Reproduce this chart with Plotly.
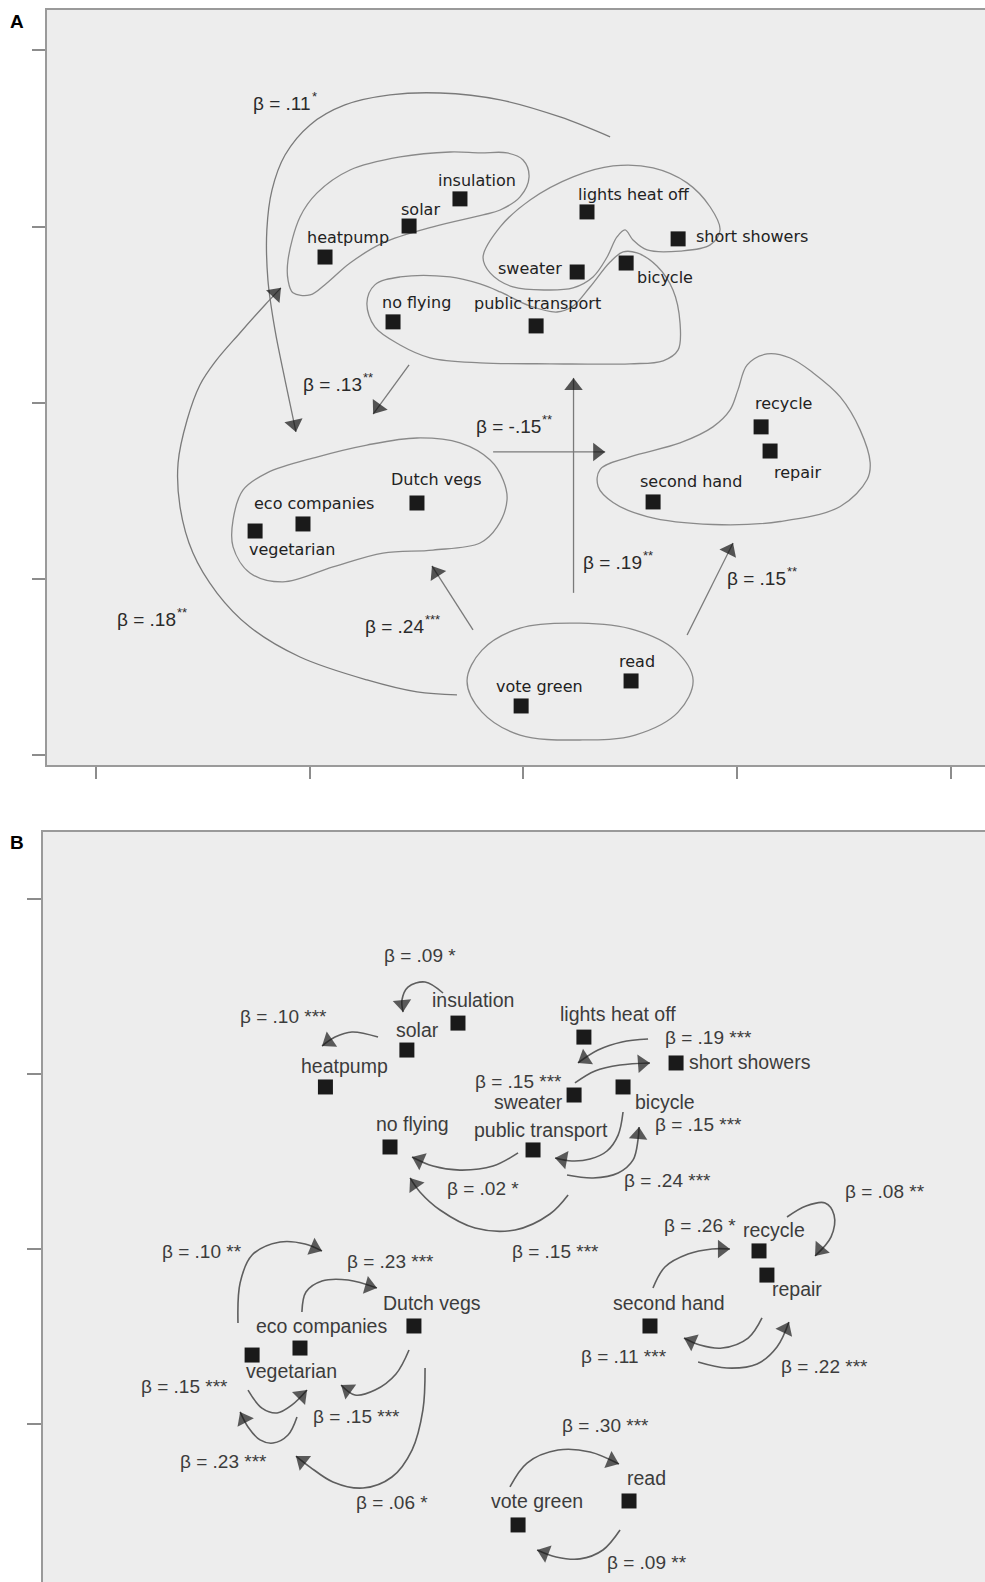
import plotly.graph_objects as go

# ---------------- data ----------------
items = ["insulation", "solar", "heatpump", "no flying", "lights heat off",
         "short showers", "sweater", "bicycle", "public transport", "Dutch vegs",
         "eco companies", "vegetarian", "recycle", "repair", "second hand",
         "read", "vote green"]

# Panel A coordinates
a_x = [-0.297, -0.535, -0.928, -0.610, 0.297, 0.723, 0.251, 0.480, 0.059, -0.498,
       -1.031, -1.255, 1.111, 1.153, 0.606, 0.503, -0.011]
a_y = [1.157, 1.003, 0.827, 0.459, 1.083, 0.930, 0.742, 0.793, 0.436, -0.569,
       -0.688, -0.728, -0.137, -0.274, -0.563, -1.579, -1.721]

# Panel B coordinates
b_x = [-0.292, -0.531, -0.912, -0.610, 0.297, 0.728, 0.251, 0.480, 0.059, -0.498,
       -1.031, -1.255, 1.116, 1.153, 0.606, 0.508, -0.011]
b_y = [1.291, 1.137, 0.926, 0.583, 1.211, 1.063, 0.880, 0.926, 0.566, -0.440,
       -0.566, -0.606, -0.011, -0.149, -0.440, -1.440, -1.577]

# Cluster outlines (panel A)
contour_energy_x = [-1.101, -1.045, -0.965, -0.811, -0.577, -0.343, -0.203, -0.077, -0.002, 0.026,
                    -0.016, -0.109, -0.189, -0.423, -0.657, -0.811, -0.919, -0.998, -1.078, -1.101, -1.101]
contour_energy_y = [0.810, 1.054, 1.191, 1.321, 1.395, 1.423, 1.418, 1.418, 1.378, 1.282,
                    1.168, 1.094, 1.066, 0.998, 0.907, 0.793, 0.680, 0.612, 0.624, 0.697, 0.810]
contour_home_x = [-0.189, -0.109, 0.031, 0.232, 0.419, 0.606, 0.765, 0.873, 0.919, 0.873, 0.732,
                  0.578, 0.512, 0.475, 0.437, 0.391, 0.325, 0.232, 0.110, -0.049, -0.156, -0.189]
contour_home_y = [0.827, 0.998, 1.151, 1.282, 1.344, 1.333, 1.248, 1.111, 0.981, 0.896, 0.861,
                  0.867, 0.924, 0.981, 0.941, 0.827, 0.714, 0.652, 0.640, 0.657, 0.737, 0.827]
contour_transport_x = [-0.732, -0.695, -0.577, -0.343, -0.203, -0.109, 0.031, 0.157, 0.232, 0.311,
                       0.405, 0.466, 0.531, 0.624, 0.699, 0.732, 0.723, 0.653, 0.498, 0.124,
                       -0.203, -0.437, -0.577, -0.695, -0.732]
contour_transport_y = [0.566, 0.669, 0.714, 0.714, 0.674, 0.629, 0.549, 0.515, 0.549, 0.657,
                       0.799, 0.856, 0.850, 0.776, 0.640, 0.453, 0.300, 0.238, 0.221, 0.221,
                       0.226, 0.255, 0.328, 0.430, 0.566]
contour_food_x = [-1.358, -1.311, -1.199, -0.966, -0.732, -0.498, -0.297, -0.156, -0.095, -0.077,
                  -0.123, -0.203, -0.423, -0.657, -0.891, -1.125, -1.279, -1.358, -1.358]
contour_food_y = [-0.665, -0.495, -0.398, -0.308, -0.240, -0.200, -0.228, -0.325, -0.438, -0.552,
                  -0.705, -0.796, -0.836, -0.853, -0.932, -1.017, -0.966, -0.818, -0.665]
contour_waste_x = [1.139, 1.046, 1.003, 0.966, 0.886, 0.732, 0.498, 0.358, 0.349, 0.419, 0.578,
                   0.886, 1.200, 1.481, 1.607, 1.621, 1.574, 1.481, 1.355, 1.247, 1.139]
contour_waste_y = [0.277, 0.215, 0.073, -0.041, -0.137, -0.228, -0.307, -0.379, -0.475, -0.566, -0.646,
                   -0.691, -0.674, -0.589, -0.436, -0.340, -0.154, 0.033, 0.169, 0.254, 0.277]
contour_civic_x = [-0.264, -0.194, -0.016, 0.264, 0.522, 0.709, 0.793, 0.723, 0.522, 0.264,
                   -0.016, -0.194, -0.264]
contour_civic_y = [-1.579, -1.404, -1.279, -1.251, -1.290, -1.404, -1.574, -1.756, -1.886, -1.914,
                   -1.886, -1.756, -1.579]

# Panel A arrows (tail ... head)
a_arrow_x = [
    [0.405, 0.171, -0.109, -0.390, -0.624, -0.835, -0.998, -1.115, -1.176, -1.200, -1.195, -1.162, -1.115, -1.064],
    [-0.535, -0.703],
    [-0.142, 0.382],
    [-0.311, -0.498, -0.732, -1.045, -1.279, -1.433, -1.546, -1.606, -1.615, -1.573, -1.513, -1.442, -1.326, -1.209, -1.134],
    [-0.236, -0.428],
    [0.234, 0.234],
    [0.765, 0.980],
]
a_arrow_y = [
    [1.509, 1.622, 1.719, 1.758, 1.747, 1.690, 1.577, 1.406, 1.207, 0.981, 0.697, 0.413, 0.129, -0.166],
    [0.215, -0.064],
    [-0.279, -0.279],
    [-1.658, -1.641, -1.573, -1.443, -1.273, -1.080, -0.852, -0.591, -0.341, -0.098, 0.101, 0.232, 0.396, 0.555, 0.652],
    [-1.289, -0.926],
    [-1.079, 0.141],
    [-1.318, -0.796],
]
a_beta = [".11", ".13", "-.15", ".18", ".24", ".19", ".15"]
a_sig = ["*", "**", "**", "**", "***", "**", "**"]
a_beta_x = [-0.989, -0.750, 0.087, -1.620, -0.460, 0.559, 1.233]   # right end of "β = …"
a_beta_y = [1.701, 0.101, -0.137, -1.233, -1.272, -0.909, -1.000]

# Panel B arrows (tail ... head)
b_arrow_x = [
    [-0.362, -0.446, -0.526, -0.554, -0.549],
    [-0.666, -0.788, -0.867, -0.928],
    [0.597, 0.475, 0.363, 0.269],
    [0.255, 0.349, 0.466, 0.606],
    [0.480, 0.457, 0.405, 0.326, 0.241, 0.162],
    [0.218, 0.340, 0.457, 0.527, 0.550, 0.555],
    [-0.011, -0.128, -0.283, -0.409, -0.507],
    [0.223, 0.138, -0.025, -0.212, -0.376, -0.470, -0.516],
    [-1.321, -1.311, -1.255, -1.124, -1.007, -0.928],
    [-1.022, -1.003, -0.928, -0.806, -0.671],
    [-0.521, -0.582, -0.680, -0.774, -0.839],
    [-1.274, -1.209, -1.138, -1.068, -0.998],
    [-1.045, -1.087, -1.157, -1.218, -1.274, -1.311],
    [-0.446, -0.456, -0.507, -0.601, -0.736, -0.877, -0.984, -1.050],
    [1.247, 1.336, 1.425, 1.467, 1.453, 1.378],
    [0.620, 0.676, 0.784, 0.896, 0.980],
    [1.130, 1.065, 0.943, 0.840, 0.765],
    [0.831, 0.966, 1.107, 1.200, 1.256],
    [-0.049, 0.031, 0.176, 0.326, 0.461],
    [0.466, 0.386, 0.279, 0.167, 0.078],
]
b_arrow_y = [
    [1.463, 1.526, 1.497, 1.423, 1.354],
    [1.211, 1.240, 1.211, 1.160],
    [1.200, 1.183, 1.137, 1.063],
    [0.949, 1.017, 1.051, 1.063],
    [0.783, 0.651, 0.560, 0.514, 0.503, 0.520],
    [0.423, 0.406, 0.434, 0.509, 0.623, 0.697],
    [0.549, 0.474, 0.451, 0.474, 0.526],
    [0.309, 0.200, 0.109, 0.120, 0.223, 0.326, 0.406],
    [-0.423, -0.194, -0.034, 0.040, 0.029, -0.011],
    [-0.360, -0.246, -0.183, -0.177, -0.223],
    [-0.577, -0.714, -0.806, -0.834, -0.777],
    [-0.806, -0.909, -0.937, -0.891, -0.806],
    [-0.960, -1.063, -1.109, -1.091, -1.017, -0.931],
    [-0.680, -0.920, -1.149, -1.303, -1.366, -1.331, -1.246, -1.183],
    [0.183, 0.246, 0.263, 0.194, 0.069, -0.040],
    [-0.223, -0.103, -0.029, 0.000, 0.000],
    [-0.394, -0.509, -0.566, -0.549, -0.509],
    [-0.646, -0.680, -0.657, -0.560, -0.417],
    [-1.360, -1.223, -1.149, -1.160, -1.229],
    [-1.606, -1.720, -1.771, -1.760, -1.720],
]
b_beta = [".09", ".10", ".19", ".15", ".15", ".24", ".02", ".15", ".10", ".23",
          ".15", ".15", ".23", ".06", ".08", ".26", ".11", ".22", ".30", ".09"]
b_sig = ["*", "***", "***", "***", "***", "***", "*", "***", "**", "***",
         "***", "***", "***", "*", "**", "*", "***", "***", "***", "**"]
b_beta_x = [-0.470, -1.106, 0.882, -0.011, 0.831, 0.690, -0.175, 0.162, -1.489, -0.610,
            -1.569, -0.769, -1.391, -0.601, 1.705, 0.840, 0.485, 1.420, 0.400, 0.592]
b_beta_y = [1.680, 1.331, 1.211, 0.960, 0.709, 0.394, 0.343, -0.017, -0.017, -0.069,
            -0.783, -0.960, -1.217, -1.451, 0.326, 0.137, -0.617, -0.674, -1.006, -1.789]

tick_vals = [-2, -1, 0, 1, 2]

# ---------------- styling (pixel offsets of item labels) ----------------
a_label_off = [(17, -18), (11, -17), (23, -20), (23, -19), (47, -17), (74, -2), (-47, -4),
               (39, 14), (1, -22), (20, -24), (11, -20), (37, 18), (22, -23), (27, 21),
               (38, -20), (6, -19), (18, -19)]
b_label_off = [(15, -23), (11, -20), (19, -21), (22, -23), (34, -23), (74, -1), (-46, 7),
               (42, 15), (8, -20), (18, -23), (22, -22), (39, 16), (15, -21), (30, 14),
               (19, -23), (17, -23), (19, -24)]

W, H = 985, 1582
fig = go.Figure()

def add_curve(xs, ys, xa, ya, color, width, shape="spline"):
    fig.add_trace(go.Scatter(x=xs, y=ys, xaxis=xa, yaxis=ya, mode="lines",
                             line=dict(color=color, width=width, shape=shape, smoothing=1.0),
                             hoverinfo="skip"))

def add_head(xs, ys, xa, ya, color, size):
    fig.add_trace(go.Scatter(x=xs[-2:], y=ys[-2:], xaxis=xa, yaxis=ya, mode="markers",
                             marker=dict(symbol="triangle-up", size=[0, size], color=color,
                                         angleref="previous", standoff=size / 2,
                                         line=dict(width=0)),
                             hoverinfo="skip"))

# Panel A contours
for cx, cy in [(contour_energy_x, contour_energy_y), (contour_home_x, contour_home_y),
               (contour_transport_x, contour_transport_y), (contour_food_x, contour_food_y),
               (contour_waste_x, contour_waste_y), (contour_civic_x, contour_civic_y)]:
    add_curve(cx, cy, "x", "y", "#8a8a8a", 1.3)

# Panel A arrows
for xs, ys in zip(a_arrow_x, a_arrow_y):
    add_curve(xs, ys, "x", "y", "#7a7a7a", 1.3, "spline" if len(xs) > 2 else "linear")
    add_head(xs, ys, "x", "y", "#111111", 16)

# Panel B arrows
for xs, ys in zip(b_arrow_x, b_arrow_y):
    add_curve(xs, ys, "x2", "y2", "#5e5e5e", 1.6)
    add_head(xs, ys, "x2", "y2", "#1a1a1a", 16)

# Points
fig.add_trace(go.Scatter(x=a_x, y=a_y, xaxis="x", yaxis="y", mode="markers",
                         marker=dict(symbol="square", size=15, color="#1a1a1a"),
                         text=items, hoverinfo="text"))
fig.add_trace(go.Scatter(x=b_x, y=b_y, xaxis="x2", yaxis="y2", mode="markers",
                         marker=dict(symbol="square", size=15, color="#1a1a1a"),
                         text=items, hoverinfo="text"))

ann = []
for name, x, y, (dx, dy) in zip(items, a_x, a_y, a_label_off):
    ann.append(dict(x=x, y=y, xref="x", yref="y", text=name, showarrow=False,
                    xshift=dx, yshift=-dy, xanchor="center", yanchor="middle",
                    font=dict(family="DejaVu Sans", size=16, color="#222222")))
for name, x, y, (dx, dy) in zip(items, b_x, b_y, b_label_off):
    ann.append(dict(x=x, y=y, xref="x2", yref="y2", text=name, showarrow=False,
                    xshift=dx, yshift=-dy, xanchor="center", yanchor="middle",
                    font=dict(family="Liberation Sans", size=19.5, color="#3c3c3c")))
for b, s, x, y in zip(a_beta, a_sig, a_beta_x, a_beta_y):
    ann.append(dict(x=x, y=y, xref="x", yref="y", text=f"β = {b}",
                    showarrow=False, xanchor="right", yanchor="middle", borderpad=0,
                    font=dict(family="Liberation Sans", size=19, color="#2a2a2a")))
    ann.append(dict(x=x, y=y, xref="x", yref="y", text=s, showarrow=False,
                    xanchor="left", yanchor="middle", borderpad=0, xshift=-1, yshift=7,
                    font=dict(family="Liberation Sans", size=13, color="#2a2a2a")))
for b, s, x, y in zip(b_beta, b_sig, b_beta_x, b_beta_y):
    ann.append(dict(x=x, y=y, xref="x2", yref="y2", text=f"β = {b} {s}",
                    showarrow=False, xanchor="center", yanchor="middle",
                    font=dict(family="Liberation Sans", size=19, color="#3c3c3c")))
ann.append(dict(x=17 / W, y=1 - 22 / H, xref="paper", yref="paper", text="<b>A</b>",
                showarrow=False, xanchor="center", yanchor="middle",
                font=dict(family="Liberation Sans", size=19, color="black")))
ann.append(dict(x=17 / W, y=1 - 843 / H, xref="paper", yref="paper", text="<b>B</b>",
                showarrow=False, xanchor="center", yanchor="middle",
                font=dict(family="Liberation Sans", size=19, color="black")))

axis_common = dict(showgrid=False, zeroline=False, showticklabels=False,
                   tickcolor="#8c8c8c", tickwidth=1.5, linecolor="#9a9a9a", linewidth=1.5)

fig.update_layout(
    width=W, height=H, margin=dict(l=0, r=0, t=0, b=0),
    paper_bgcolor="white", plot_bgcolor="#ededed", showlegend=False,
    annotations=ann,
    xaxis=dict(domain=[47 / W, 1], range=[-2.228, 2.158], tickvals=tick_vals, ticks="outside",
               ticklen=12, showline=True, mirror=True, anchor="y", **axis_common),
    yaxis=dict(domain=[(H - 765) / H, (H - 10) / H], range=[-2.056, 2.229], tickvals=tick_vals,
               ticks="outside", ticklen=13, showline=True, anchor="x", **axis_common),
    xaxis2=dict(domain=[43 / W, 1], range=[-2.233, 2.173], tickvals=tick_vals, ticks="",
                showline=True, side="top", anchor="y2", **axis_common),
    yaxis2=dict(domain=[0, (H - 832) / H], range=[-1.903, 2.383], tickvals=tick_vals,
                ticks="outside", ticklen=14, showline=True, anchor="x2", **axis_common),
)

fig.write_html("out.html", config={"displayModeBar": False},
               post_script="document.body.style.margin='0';")
